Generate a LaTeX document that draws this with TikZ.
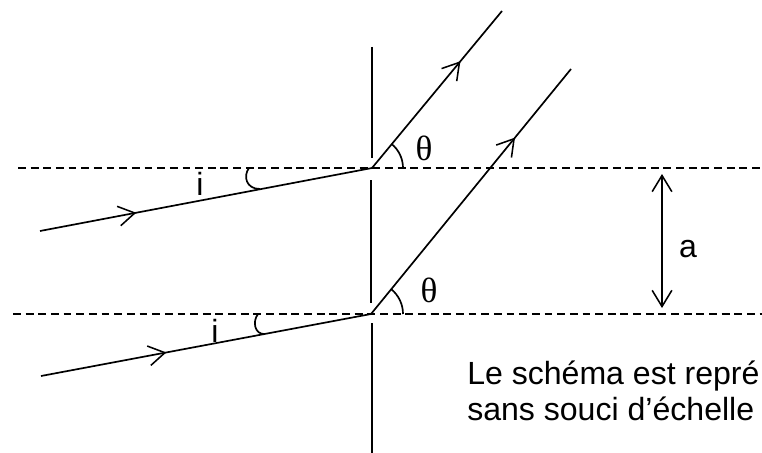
\documentclass[tikz,border=0pt]{standalone}
\usepackage{fontspec}
\setmainfont{Liberation Sans}
\newfontfamily\greekfont{Liberation Serif}
\usetikzlibrary{arrows.meta, positioning, decorations.markings}
\tikzset{raytip/.tip={Straight Barb[length=11.5pt, width=14pt, line width=1.1pt]}}

\begin{document}
\begin{tikzpicture}[x=0.025cm, y=-0.025cm,
  ray/.style={line width=1.2pt},
  axisline/.style={line width=1pt, dash pattern=on 5.6pt off 3.4pt},
  midarrow/.style={postaction={decorate}, decoration={markings, mark=at position #1 with {\arrow{raytip}}}},
  lbl/.style={font=\fontsize{22.8}{25.6}\selectfont, inner sep=0pt},
  anglelbl/.style={font=\greekfont\fontsize{25}{28}\selectfont, inner sep=0pt}]
  \useasboundingbox (0,0) rectangle (762,453);
  \clip (0,0) rectangle (762,453);

  % Points of the two rays
  \coordinate (src1) at (40,231);
  \coordinate (src2) at (41,376);
  \coordinate (hit1) at (372,168);
  \coordinate (hit2) at (371,314);
  \coordinate (out1) at (502,11);
  \coordinate (out2) at (571,69);

  % Grating, drawn in three pieces
  \draw[ray] (372,47) -- (372,158);
  \draw[ray] (371,180) -- (371,303);
  \draw[ray] (372,323) -- (372,453);

  % Normals through the points of incidence
  \draw[axisline] (18,168) -- (762,168);
  \draw[axisline] (13,314) -- (762,314);

  % Incident and diffracted rays
  \draw[ray, midarrow=0.29] (src1) -- (hit1);
  \draw[ray, midarrow=0.38] (src2) -- (hit2);
  \draw[ray, midarrow=0.68] (hit1) -- (out1);
  \draw[ray, midarrow=0.72] (hit2) -- (out2);

  % Angles i
  \draw[ray] (249,168) .. controls (243,176) and (246,189) .. (260,189);
  \draw[ray] (258,314) .. controls (252,322) and (255,334) .. (264,334);
  \node[lbl] (i1) at (200,184) {i};
  \node[lbl] (i2) at (215,331) {i};

  % Angles theta
  \draw[ray] ([xshift=0.775cm]hit1) arc[start angle=0, end angle=50.4, radius=0.775cm];
  \draw[ray] ([xshift=0.8cm]hit2) arc[start angle=0, end angle=50.8, radius=0.8cm];
  \node[anglelbl] (th1) at (424,148) {θ};
  \node[anglelbl] (th2) at (429,290) {θ};

  % Spacing a
  \coordinate (aTop) at (662,174);
  \coordinate (aBot) at (662,308);
  \draw[ray, raytip-raytip] (aTop) -- (aBot);
  \node[lbl] (a) at (688,249) {a};

  % Note
  \node[lbl, align=left, anchor=base west] (note) at (467,420) {Le schéma est repré\\sans souci d'échelle};
\end{tikzpicture}
\end{document}
